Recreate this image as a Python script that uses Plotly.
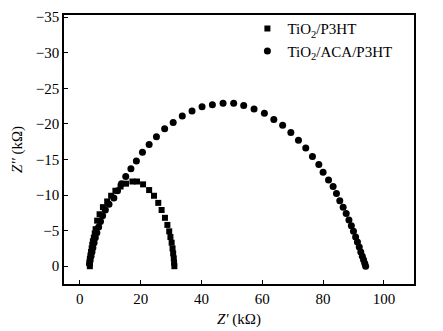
import plotly.graph_objects as go

# Nyquist data, Z' and Z'' in kOhm
p3ht_zre = [3.3, 3.2, 3.3, 3.5, 3.7, 3.9, 4.1, 4.3, 4.6, 4.9, 5.2, 5.7, 6.5, 7.6, 9.0,
            10.3, 11.7, 13.4, 15.2, 17.3, 18.8, 20.8, 22.8, 24.4, 25.8, 26.9, 28.0,
            28.8, 29.4, 29.8, 30.2, 30.5, 30.7, 30.9, 31.0, 31.1]
p3ht_zim = [0.0, -0.5, -1.0, -1.5, -2.0, -2.5, -3.0, -3.5, -4.0, -4.6, -5.2, -6.4, -7.3,
            -8.3, -9.1, -9.9, -10.6, -11.2, -11.6, -11.9, -11.9, -11.5, -10.7, -9.9,
            -8.9, -7.9, -6.8, -5.8, -4.9, -4.1, -3.3, -2.5, -1.8, -1.1, -0.5, 0.0]

aca_zre = [3.2, 3.4, 3.7, 4.0, 4.3, 4.7, 5.1, 5.6, 6.2, 6.8, 7.5, 8.4, 9.6, 11.2, 12.4,
           13.7, 15.1, 16.8, 18.6, 20.6, 22.8, 25.2, 27.9, 30.7, 33.7, 36.9, 40.2, 43.6,
           47.1, 50.6, 53.9, 57.3, 60.7, 63.8, 66.7, 69.4, 71.9, 74.3, 76.5, 78.6, 80.0,
           81.8, 83.3, 84.4, 85.5, 86.6, 87.6, 88.5, 89.3, 90.0, 90.7, 91.3, 91.9, 92.4,
           92.9, 93.3, 93.7, 94.0]
aca_zim = [-0.3, -0.8, -1.4, -2.0, -2.6, -3.3, -4.0, -4.7, -5.5, -6.3, -7.1, -7.9, -8.7,
           -9.6, -10.6, -11.6, -12.6, -13.7, -14.8, -16.0, -17.1, -18.2, -19.3, -20.2,
           -21.1, -21.8, -22.4, -22.7, -22.9, -22.9, -22.6, -22.1, -21.5, -20.6, -19.8,
           -18.8, -17.7, -16.6, -15.4, -14.3, -13.2, -12.1, -11.2, -10.2, -9.2, -8.3,
           -7.4, -6.5, -5.7, -4.9, -4.1, -3.4, -2.7, -2.0, -1.4, -0.9, -0.4, 0.0]

x_ticks = [0, 20, 40, 60, 80, 100]
y_ticks = [0, -5, -10, -15, -20, -25, -30, -35]

FONT = "Liberation Serif"

fig = go.Figure()
fig.add_trace(go.Scatter(
    x=p3ht_zre, y=p3ht_zim, mode="markers", name="TiO<sub>2</sub>/P3HT",
    marker=dict(symbol="square", size=6, color="black"),
))
fig.add_trace(go.Scatter(
    x=aca_zre, y=aca_zim, mode="markers", name="TiO<sub>2</sub>/ACA/P3HT",
    marker=dict(symbol="circle", size=7, color="black"),
))

axis_common = dict(
    showline=True, linecolor="black", linewidth=1.5, mirror=True,
    ticks="inside", ticklen=4, tickwidth=1, tickcolor="black",
    showgrid=False, zeroline=False, automargin=False,
    tickfont=dict(family=FONT, size=15, color="black"),
)

fig.update_layout(
    width=443, height=331,
    margin=dict(l=64, r=29, t=13, b=47),
    paper_bgcolor="white", plot_bgcolor="white",
    font=dict(family=FONT, size=15, color="black"),
    showlegend=True,
    legend=dict(
        x=0.524, y=1.01, xanchor="left", yanchor="top",
        bgcolor="rgba(0,0,0,0)", borderwidth=0,
        font=dict(family=FONT, size=15, color="black"),
        itemwidth=30, tracegroupgap=0,
    ),
    xaxis=dict(
        range=[-5.2, 109.9], tickvals=x_ticks,
        title=dict(text="<i>Z'</i> (kΩ)", font=dict(family=FONT, size=15), standoff=8),
        **axis_common,
    ),
    yaxis=dict(
        range=[2.5, -35.3], tickvals=y_ticks,
        title=dict(text="<i>Z''</i> (kΩ)", font=dict(family=FONT, size=15), standoff=10),
        **axis_common,
    ),
)

fig.write_html("out.html")
